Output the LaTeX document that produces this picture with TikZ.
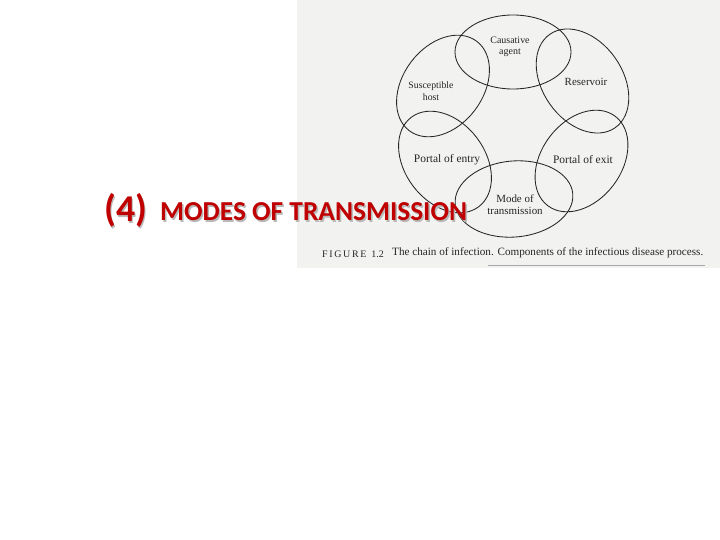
\documentclass[tikz,border=0pt]{standalone}
\usepackage{fontspec}
\setmainfont{Liberation Serif}
\newfontfamily\titlefont{Carlito}
\definecolor{figbg}{HTML}{F2F2F1}
\definecolor{titlered}{HTML}{C00000}
\definecolor{inkc}{HTML}{262626}
\begin{document}
\begin{tikzpicture}[x=1bp,y=-1bp,
  ring/.style={draw=inkc, line width=0.85bp},
  lab/.style={text=inkc, align=center, inner sep=0pt},
  ttl/.style={font=\titlefont\bfseries, inner sep=0pt, anchor=base west}]
\useasboundingbox (0,0) rectangle (720,540);
\fill[white] (0,0) rectangle (720,540);
\fill[figbg] (297,0) rectangle (720,268);
% ellipses of the chain
\draw[ring] (513,52) ellipse [x radius=58bp, y radius=37bp];
\draw[ring] (514,199) ellipse [x radius=59bp, y radius=38bp, rotate=5];
\draw[ring] (443,86) ellipse [x radius=56bp, y radius=40bp, rotate=53];
\draw[ring] (582.5,81) ellipse [x radius=57bp, y radius=40bp, rotate=-55];
\draw[ring] (581.5,161) ellipse [x radius=56bp, y radius=40bp, rotate=53];
\draw[ring] (445,162) ellipse [x radius=56bp, y radius=40bp, rotate=-53];
% labels
\node[lab, font=\fontsize{10}{11.5}\selectfont] (agent) at (510,47) {Causative\\agent};
\node[lab, font=\fontsize{9.8}{11.5}\selectfont] (host) at (431,91) {Susceptible\\host};
\node[lab, font=\fontsize{11}{12}\selectfont] (res) at (586,82) {Reservoir};
\node[lab, font=\fontsize{11.5}{12}\selectfont] (entry) at (447,160) {Portal of entry};
\node[lab, font=\fontsize{11.5}{12}\selectfont] (exit) at (583,160) {Portal of exit};
\node[lab, font=\fontsize{11}{12}\selectfont] (mode) at (515,205) {Mode of\\transmission};
% caption
\node[text=inkc, inner sep=0pt, anchor=west] (figno) at (322,254) {\fontsize{10}{12}\selectfont F\,I\,G\,U\,R\,E\ \ 1.2};
\node[text=inkc, inner sep=0pt, anchor=west] (capt) at (392,253) {\fontsize{11.2}{12}\selectfont The chain of infection. Components of the infectious disease process.};
\coordinate (ul) at (488,265);
\coordinate (ur) at (705,265);
\draw[gray!70, line width=1bp] (ul) -- (ur);
% title with shadow
\node[ttl, text=gray!55] (t4s) at (105.5,223.5) {\fontsize{38}{38}\selectfont (4)};
\node[ttl, text=gray!55] (tms) at (161.5,222.5) {\fontsize{27.5}{27.5}\selectfont MODES OF TRANSMISSION};
\node[ttl, text=titlered] (t4) at (104,222) {\fontsize{38}{38}\selectfont (4)};
\node[ttl, text=titlered] (tm) at (160,221) {\fontsize{27.5}{27.5}\selectfont MODES OF TRANSMISSION};
\end{tikzpicture}
\end{document}
